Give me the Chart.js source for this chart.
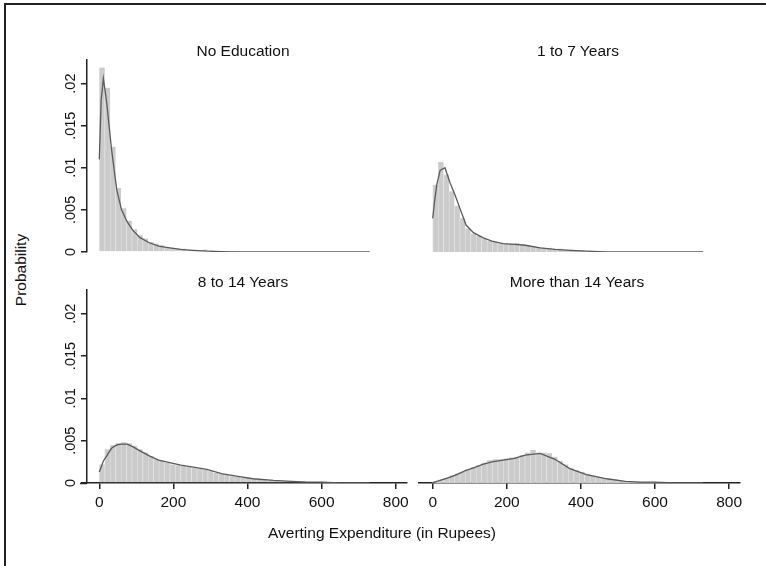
<!DOCTYPE html>
<html>
<head>
<meta charset="utf-8">
<script src="https://cdn.jsdelivr.net/npm/chart.js@4.4.1/dist/chart.umd.min.js"></script>
<style>
  body { margin: 0; background: #fff; width: 766px; height: 566px; overflow: hidden; position: relative;
         font-family: 'Liberation Sans', Arial, Helvetica, sans-serif; }
  canvas { position: absolute; }
  .lbl { position: absolute; white-space: nowrap; font-size: 15.5px; color: #111; line-height: 1;
         transform: translate(-50%, -50%); }
  .frame { position: absolute; left: 4px; top: 3px; width: 800px; height: 600px;
           border-left: 2px solid #222; border-top: 2px solid #222; }
</style>
</head>
<body>
<div class="frame"></div>
<canvas id="panelA"></canvas>
<canvas id="panelB"></canvas>
<canvas id="panelC"></canvas>
<canvas id="panelD"></canvas>
<div class="lbl" style="left:243px;top:51px">No Education</div>
<div class="lbl" style="left:578px;top:51px">1 to 7 Years</div>
<div class="lbl" style="left:243px;top:282px">8 to 14 Years</div>
<div class="lbl" style="left:577px;top:282px">More than 14 Years</div>
<div class="lbl" style="left:21px;top:270px;transform:translate(-50%,-50%) rotate(-90deg)">Probability</div>
<div class="lbl" style="left:382px;top:533px">Averting Expenditure (in Rupees)</div>
<script>
// histogram bins: 50 bins of equal width from 0 to ~732 rupees
const binWidth = 14.64;
const binCount = 50;
const binCenters = Array.from({ length: binCount }, (_, i) => binWidth * (i + 0.5));

const xTicks = [0, 200, 400, 600, 800];
const yTicks = [0, 0.005, 0.01, 0.015, 0.02];

// bar heights (density) per group
const noEducation = [0.0219, 0.0195, 0.0125, 0.0076, 0.0052, 0.0037, 0.0027, 0.0020, 0.0016, 0.0012,
  0.0010, 0.0008, 0.0006, 0.0005, 0.0004, 0.0004, 0.0003, 0.0003, 0.0002, 0.0003,
  0.0002, 0.0001, 0.0001, 0.0001, 0.0001, 0, 0, 0, 0, 0,
  0, 0, 0, 0, 0, 0, 0, 0, 0, 0,
  0, 0, 0, 0, 0, 0, 0, 0, 0, 0];
const oneToSeven = [0.0080, 0.0107, 0.0092, 0.0072, 0.0055, 0.0040, 0.0028, 0.0022, 0.0019, 0.0016,
  0.0013, 0.0012, 0.0010, 0.0010, 0.0010, 0.0011, 0.0009, 0.0008, 0.0007, 0.0006,
  0.0005, 0.0005, 0.0004, 0.0004, 0.0003, 0.0003, 0.0002, 0.0002, 0, 0,
  0, 0, 0, 0, 0, 0, 0, 0, 0, 0,
  0, 0, 0, 0, 0, 0, 0, 0, 0, 0];
const eightToFourteen = [0.0022, 0.0040, 0.0045, 0.0047, 0.0048, 0.0047, 0.0044, 0.0040, 0.0036, 0.0032,
  0.0028, 0.0026, 0.0024, 0.0022, 0.0021, 0.0020, 0.0019, 0.0018, 0.0017, 0.0016,
  0.0014, 0.0012, 0.0011, 0.0010, 0.0008, 0.0007, 0.0006, 0.0006, 0.0005, 0.0004,
  0.0004, 0.0003, 0.0003, 0.0002, 0.0002, 0.0002, 0.0002, 0.0002, 0.0001, 0,
  0, 0, 0, 0, 0, 0, 0, 0, 0, 0];
const moreThanFourteen = [0.0002, 0.0004, 0.0006, 0.0009, 0.0011, 0.0013, 0.0016, 0.0019, 0.0021, 0.0024,
  0.0027, 0.0028, 0.0028, 0.0029, 0.0030, 0.0031, 0.0033, 0.0036, 0.0039, 0.0036,
  0.0036, 0.0035, 0.0031, 0.0026, 0.0022, 0.0018, 0.0015, 0.0013, 0.0011, 0.0009,
  0.0007, 0.0006, 0.0005, 0.0004, 0.0003, 0.0002, 0.0002, 0.0002, 0.0001, 0.0001,
  0.0001, 0.0001, 0.0001, 0, 0, 0, 0, 0, 0, 0];

// kernel density curves, same x grid for every group
const densityX = [0, 5, 11, 20, 33, 47, 60, 75, 90, 110, 135, 160, 190, 220, 250, 290, 330, 370, 415, 470, 520, 560, 600, 650, 730];
const densNoEducation = [0.0110, 0.0180, 0.0206, 0.0177, 0.0122, 0.0074, 0.0050, 0.0036, 0.0026, 0.0017,
  0.0011, 0.0007, 0.0005, 0.0003, 0.0002, 0.0001, 0.00005, 0, 0, 0, 0, 0, 0, 0, 0];
const densOneToSeven = [0.0040, 0.0060, 0.0080, 0.0097, 0.0100, 0.0082, 0.0068, 0.0050, 0.0032, 0.0023,
  0.0017, 0.0013, 0.0010, 0.0009, 0.0008, 0.0005, 0.0003, 0.0002, 0.0001, 0, 0, 0, 0, 0, 0];
const densEightToFourteen = [0.0013, 0.0019, 0.0026, 0.0032, 0.0041, 0.0045, 0.0046, 0.0046, 0.0043, 0.0038,
  0.0032, 0.0027, 0.0024, 0.0021, 0.0019, 0.0016, 0.0011, 0.0008, 0.0005, 0.0003, 0.0002, 0.0001, 0.0001, 0, 0];
const densMoreThanFourteen = [0, 0.0001, 0.0002, 0.0003, 0.0005, 0.0007, 0.0009, 0.0012, 0.0015, 0.0018,
  0.0022, 0.0025, 0.0027, 0.0029, 0.0033, 0.0035, 0.0028, 0.0017, 0.0010, 0.0005, 0.0002, 0.0001, 0.0001, 0, 0];

const FONT = "'Liberation Sans', Arial, Helvetica, sans-serif";
const AXIS = '#222';

// draws the short stub of the x axis that runs left of the y axis
const axisStub = {
  id: 'axisStub',
  afterDraw(chart, args, opts) {
    if (!opts.length) return;
    const { ctx, chartArea } = chart;
    ctx.save();
    ctx.strokeStyle = AXIS;
    ctx.lineWidth = 1.5;
    ctx.beginPath();
    ctx.moveTo(chartArea.left - opts.length, chartArea.bottom + 0.5);
    ctx.lineTo(chartArea.left, chartArea.bottom + 0.5);
    ctx.stroke();
    ctx.restore();
  }
};

function makePanel(id, area, xRange, bars, dens, showX, showY, stub) {
  const padL = 4, padR = 12, padT = 14, padB = 14;
  const yW = showY ? 50 : 0;
  const xH = showX ? 30 : 0;
  const cv = document.getElementById(id);
  cv.width = area.right - area.left + yW + padL + padR;
  cv.height = area.bottom - area.top + xH + padT + padB;
  cv.style.left = (area.left - yW - padL) + 'px';
  cv.style.top = (area.top - padT) + 'px';

  return new Chart(cv, {
    type: 'bar',
    data: {
      datasets: [{
        type: 'line',
        data: densityX.map((x, i) => ({ x: x, y: dens[i] })),
        borderColor: '#5a5a5a',
        borderWidth: 1.3,
        pointRadius: 0,
        tension: 0,
        order: 0
      }, {
        type: 'bar',
        data: binCenters.map((x, i) => ({ x: x, y: bars[i] })),
        backgroundColor: '#cbcbcb',
        borderColor: '#e2e2e2',
        borderWidth: { left: 0.8, right: 0, top: 0, bottom: 0 },
        borderSkipped: false,
        barPercentage: 1,
        categoryPercentage: 1,
        order: 1
      }]
    },
    options: {
      responsive: false,
      animation: false,
      layout: { padding: { left: padL, right: padR, top: padT, bottom: padB } },
      plugins: {
        legend: { display: false },
        tooltip: { enabled: false },
        axisStub: { length: stub }
      },
      scales: {
        x: {
          type: 'linear',
          display: showX,
          min: xRange[0],
          max: xRange[1],
          offset: false,
          afterBuildTicks: axis => { axis.ticks = xTicks.map(v => ({ value: v })); },
          afterFit: s => { s.height = xH; },
          grid: { display: true, drawOnChartArea: false, drawTicks: true, tickLength: 6, color: AXIS, lineWidth: 1.5, offset: false },
          border: { display: true, color: AXIS, width: 1.5 },
          ticks: { color: '#111', padding: 4, maxRotation: 0, font: { family: FONT, size: 15.5 } }
        },
        y: {
          display: showY,
          min: 0,
          max: 0.0228,
          afterBuildTicks: axis => { axis.ticks = yTicks.map(v => ({ value: v })); },
          afterFit: s => { s.width = yW; },
          grid: { display: true, drawOnChartArea: false, drawTicks: true, tickLength: 6, color: AXIS, lineWidth: 1.5 },
          border: { display: true, color: AXIS, width: 1.5 },
          ticks: {
            color: '#111',
            padding: -4,
            minRotation: 90,
            maxRotation: 90,
            crossAlign: 'center',
            font: { family: FONT, size: 14.5 },
            callback: v => v === 0 ? '0' : String(v).replace(/^0/, '')
          }
        }
      }
    },
    plugins: [axisStub]
  });
}

makePanel('panelA', { left: 87, right: 407, top: 60, bottom: 252 }, [-33.2, 830.5], noEducation, densNoEducation, false, true, 0);
makePanel('panelB', { left: 419, right: 740, top: 60, bottom: 252 }, [-37, 829.4], oneToSeven, densOneToSeven, false, false, 0);
makePanel('panelC', { left: 87, right: 407, top: 290, bottom: 483 }, [-33.2, 830.5], eightToFourteen, densEightToFourteen, true, true, 7);
makePanel('panelD', { left: 419, right: 740, top: 290, bottom: 483 }, [-37, 829.4], moreThanFourteen, densMoreThanFourteen, true, false, 0);
</script>
</body>
</html>
